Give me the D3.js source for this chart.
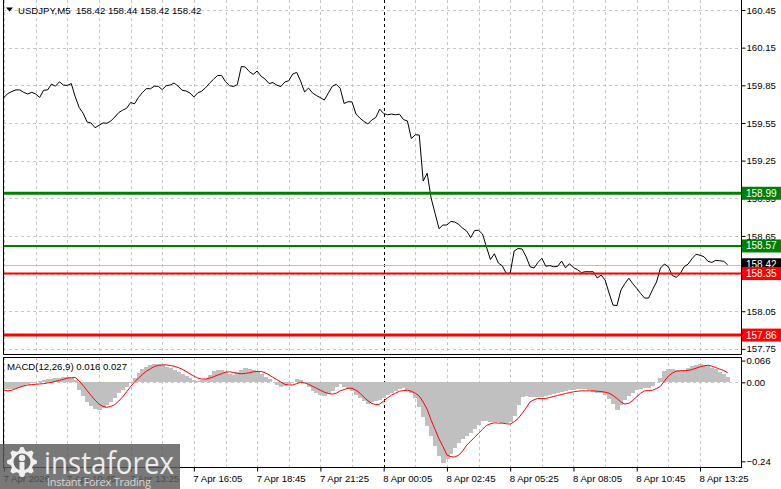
<!DOCTYPE html>
<html>
<head>
<meta charset="utf-8">
<script src="https://cdn.jsdelivr.net/npm/d3@7"></script>
<style>
  body { margin: 0; background: #fff; }
  svg text { font-family: "Liberation Sans", Arial, sans-serif; }
</style>
</head>
<body>
<div id="vis"></div>
<script>
// M5 chart, one value every 2 bars (10 min), starting 7 Apr 08:05
var startTime = new Date(2026, 3, 7, 8, 5);
var stepMinutes = 10;

var closes = [
159.755, 159.785, 159.801, 159.814, 159.813, 159.793, 159.781, 159.794, 159.781, 159.753,
159.811, 159.813, 159.860, 159.843, 159.878, 159.852, 159.849, 159.864, 159.758, 159.673,
159.627, 159.558, 159.550, 159.512, 159.531, 159.550, 159.548, 159.566, 159.597, 159.633,
159.652, 159.667, 159.713, 159.703, 159.754, 159.793, 159.824, 159.822, 159.843, 159.842,
159.816, 159.847, 159.852, 159.868, 159.844, 159.811, 159.805, 159.789, 159.757, 159.790,
159.803, 159.832, 159.868, 159.899, 159.928, 159.929, 159.879, 159.848, 159.840, 159.856,
160.000, 159.996, 159.960, 159.937, 159.964, 159.923, 159.900, 159.864, 159.872, 159.851,
159.840, 159.876, 159.887, 159.940, 159.953, 159.883, 159.797, 159.828, 159.789, 159.768,
159.752, 159.733, 159.787, 159.842, 159.858, 159.826, 159.705, 159.720, 159.717, 159.621,
159.588, 159.563, 159.542, 159.574, 159.593, 159.660, 159.625, 159.615, 159.621, 159.615,
159.620, 159.577, 159.566, 159.426, 159.456, 159.454, 159.087, 159.150, 158.952, 158.830,
158.708, 158.737, 158.737, 158.765, 158.761, 158.741, 158.711, 158.689, 158.637, 158.693,
158.695, 158.665, 158.562, 158.462, 158.508, 158.434, 158.412, 158.352, 158.353, 158.530,
158.550, 158.546, 158.486, 158.406, 158.394, 158.438, 158.472, 158.408, 158.414, 158.404,
158.408, 158.450, 158.396, 158.429, 158.397, 158.382, 158.358, 158.365, 158.365, 158.365,
158.315, 158.338, 158.299, 158.195, 158.099, 158.095, 158.219, 158.270, 158.313, 158.270,
158.232, 158.191, 158.155, 158.155, 158.222, 158.283, 158.394, 158.426, 158.404, 158.335,
158.320, 158.350, 158.405, 158.426, 158.469, 158.504, 158.496, 158.485, 158.448, 158.439,
158.456, 158.452, 158.448, 158.420
];

var macdMain = [
-0.019, -0.020, -0.021, -0.017, -0.014, -0.010, -0.006, -0.002, 0.002, 0.004,
0.006, 0.009, 0.011, 0.013, 0.014, 0.016, 0.017, 0.014, 0.006, -0.022,
-0.042, -0.060, -0.072, -0.081, -0.084, -0.077, -0.069, -0.059, -0.049, -0.033,
-0.023, -0.013, -0.003, 0.012, 0.027, 0.040, 0.048, 0.053, 0.056, 0.057,
0.054, 0.047, 0.043, 0.037, 0.030, 0.024, 0.018, 0.012, 0.007, 0.005,
0.006, 0.011, 0.022, 0.033, 0.037, 0.037, 0.030, 0.025, 0.022, 0.031,
0.038, 0.042, 0.040, 0.037, 0.032, 0.025, 0.016, 0.009, 0.001, -0.007,
-0.013, -0.010, -0.006, 0.001, 0.009, 0.007, -0.003, -0.015, -0.026, -0.033,
-0.038, -0.042, -0.036, -0.027, -0.015, -0.006, -0.013, -0.020, -0.026, -0.038,
-0.048, -0.057, -0.065, -0.060, -0.058, -0.054, -0.048, -0.039, -0.031, -0.025,
-0.020, -0.018, -0.023, -0.033, -0.049, -0.074, -0.104, -0.133, -0.163, -0.193,
-0.223, -0.244, -0.233, -0.217, -0.199, -0.184, -0.172, -0.163, -0.154, -0.142,
-0.129, -0.117, -0.117, -0.120, -0.120, -0.121, -0.124, -0.123, -0.120, -0.103,
-0.068, -0.044, -0.042, -0.044, -0.046, -0.046, -0.045, -0.042, -0.039, -0.036,
-0.033, -0.030, -0.027, -0.024, -0.022, -0.020, -0.020, -0.021, -0.023, -0.028,
-0.033, -0.033, -0.039, -0.051, -0.067, -0.084, -0.068, -0.055, -0.043, -0.033,
-0.023, -0.020, -0.018, -0.018, -0.011, 0.001, 0.014, 0.033, 0.040, 0.041,
0.038, 0.037, 0.038, 0.044, 0.050, 0.054, 0.055, 0.054, 0.050, 0.045,
0.039, 0.031, 0.024, 0.016
];

var macdSignal = [
-0.024, -0.026, -0.024, -0.019, -0.015, -0.011, -0.008, -0.007, -0.006, -0.005,
-0.004, -0.002, 0.000, 0.003, 0.006, 0.009, 0.013, 0.014, 0.015, 0.004,
-0.010, -0.025, -0.040, -0.054, -0.066, -0.073, -0.076, -0.073, -0.068, -0.057,
-0.044, -0.029, -0.013, 0.001, 0.013, 0.024, 0.034, 0.041, 0.048, 0.051,
0.053, 0.053, 0.051, 0.049, 0.045, 0.040, 0.033, 0.026, 0.019, 0.013,
0.010, 0.010, 0.013, 0.017, 0.022, 0.026, 0.031, 0.032, 0.030, 0.027,
0.026, 0.027, 0.029, 0.032, 0.033, 0.033, 0.029, 0.023, 0.015, 0.008,
0.001, -0.006, -0.008, -0.008, -0.004, 0.000, -0.002, -0.006, -0.012, -0.018,
-0.024, -0.030, -0.034, -0.036, -0.033, -0.026, -0.022, -0.018, -0.018, -0.024,
-0.033, -0.045, -0.056, -0.064, -0.068, -0.066, -0.057, -0.047, -0.039, -0.033,
-0.027, -0.025, -0.024, -0.027, -0.033, -0.042, -0.060, -0.082, -0.115, -0.143,
-0.172, -0.195, -0.221, -0.226, -0.227, -0.221, -0.208, -0.191, -0.179, -0.167,
-0.155, -0.143, -0.131, -0.126, -0.123, -0.124, -0.124, -0.126, -0.127, -0.120,
-0.110, -0.095, -0.078, -0.060, -0.053, -0.049, -0.049, -0.049, -0.046, -0.043,
-0.040, -0.037, -0.034, -0.031, -0.029, -0.027, -0.026, -0.026, -0.026, -0.026,
-0.027, -0.028, -0.030, -0.033, -0.040, -0.049, -0.060, -0.066, -0.064, -0.055,
-0.044, -0.033, -0.026, -0.025, -0.024, -0.019, -0.012, 0.004, 0.019, 0.028,
0.034, 0.035, 0.035, 0.036, 0.039, 0.043, 0.047, 0.050, 0.052, 0.049,
0.045, 0.040, 0.036, 0.029
];

var priceTicks = [160.45, 160.15, 159.85, 159.55, 159.25, 158.95, 158.65, 158.35, 158.05, 157.75];
var macdTicks = [0.066, 0, -0.24];
var levelValues = [158.99, 158.57, 158.35, 157.86];
var lastPrice = 158.42;
var headerText = "USDJPY,M5  158.42 158.44 158.42 158.42";
var macdText = "MACD(12,26,9) 0.016 0.027";
var logoText = "instaforex";
var logoSub = "Instant Forex Trading";

var width = 781, height = 489;
var left = 3, right = 741;
var mainTop = 0, mainBottom = 354;
var macdTop = 357, macdBottom = 467;
var fontSize = 9.6;

var times = closes.map(function(d, i) {
  return new Date(startTime.getTime() + i * stepMinutes * 60000);
});

var svg = d3.select('#vis')
  .append('svg')
  .attr('width', width)
  .attr('height', height);

var x = d3.scaleTime()
  .domain([new Date(2026, 3, 7, 8, 5), new Date(2026, 3, 8, 13, 25)])
  .range([4.07, 700]);

var yPrice = d3.scaleLinear()
  .domain([157.75, 160.45])
  .range([348.9, 10]);

var yMacd = d3.scaleLinear()
  .domain([-0.24, 0.066])
  .range([461.3, 360.6]);

// clip paths
var defs = svg.append('defs');
defs.append('clipPath').attr('id', 'clipMain')
  .append('rect').attr('x', left).attr('y', mainTop).attr('width', right - left).attr('height', mainBottom - mainTop);
defs.append('clipPath').attr('id', 'clipMacd')
  .append('rect').attr('x', left).attr('y', macdTop).attr('width', right - left).attr('height', macdBottom - macdTop);

// grid times: every 80 min, labels every 160 min
var gridTimes = d3.range(0, 23).map(function(k) {
  return new Date(startTime.getTime() + k * 80 * 60000);
}).filter(function(t) { return x(t) > left + 1 && x(t) < right; });
var labelTimes = d3.range(0, 12).map(function(k) {
  return new Date(startTime.getTime() + k * 160 * 60000);
});

var gridColor = '#c6c6c6';

// vertical grid both panels
[[mainTop, mainBottom], [macdTop, macdBottom]].forEach(function(p) {
  svg.append('g').selectAll('line')
    .data(gridTimes)
    .enter().append('line')
    .attr('x1', function(d) { return Math.round(x(d)) + 0.5; })
    .attr('x2', function(d) { return Math.round(x(d)) + 0.5; })
    .attr('y1', p[0])
    .attr('y2', p[1])
    .attr('stroke', gridColor)
    .attr('stroke-dasharray', '3,3');
});

// horizontal price grid
svg.append('g').selectAll('line')
  .data(priceTicks)
  .enter().append('line')
  .attr('x1', left)
  .attr('x2', right)
  .attr('y1', function(d) { return Math.round(yPrice(d)) + 0.5; })
  .attr('y2', function(d) { return Math.round(yPrice(d)) + 0.5; })
  .attr('stroke', gridColor)
  .attr('stroke-dasharray', '3,3');

// macd zero line
svg.append('line')
  .attr('x1', left).attr('x2', right + 4)
  .attr('y1', Math.round(yMacd(0)) + 0.5).attr('y2', Math.round(yMacd(0)) + 0.5)
  .attr('stroke', gridColor)
  .attr('stroke-dasharray', '3,3');

// day separator
var daySep = new Date(2026, 3, 8, 0, 5);
[[mainTop, mainBottom], [macdTop, macdBottom]].forEach(function(p) {
  svg.append('line')
    .attr('x1', Math.round(x(daySep)) + 0.5).attr('x2', Math.round(x(daySep)) + 0.5)
    .attr('y1', p[0]).attr('y2', p[1])
    .attr('stroke', '#000')
    .attr('stroke-dasharray', '3,3');
});

// price line
var priceG = svg.append('g').attr('clip-path', 'url(#clipMain)');

priceG.append('line')
  .attr('x1', left).attr('x2', right)
  .attr('y1', Math.round(yPrice(lastPrice)) + 0.5)
  .attr('y2', Math.round(yPrice(lastPrice)) + 0.5)
  .attr('stroke', '#c0c0c0');

priceG.append('path')
  .datum(closes)
  .attr('fill', 'none')
  .attr('stroke', '#000')
  .attr('stroke-width', 1)
  .attr('d', d3.line()
    .x(function(d, i) { return x(times[i]); })
    .y(function(d) { return yPrice(d); }));

var levelColor = function(v) { return v > lastPrice ? '#008000' : '#ff0000'; };
var levelWidth = function(v) { return Math.abs(v - lastPrice) > 0.3 ? 3 : 2; };

priceG.selectAll('.level')
  .data(levelValues)
  .enter().append('line')
  .attr('class', 'level')
  .attr('x1', left).attr('x2', right)
  .attr('y1', function(d) { return yPrice(d); })
  .attr('y2', function(d) { return yPrice(d); })
  .attr('stroke', levelColor)
  .attr('stroke-width', levelWidth);

// macd
var macdG = svg.append('g').attr('clip-path', 'url(#clipMacd)');
var barW = x(new Date(startTime.getTime() + stepMinutes * 60000)) - x(startTime);

macdG.selectAll('.bar')
  .data(macdMain)
  .enter().append('rect')
  .attr('class', 'bar')
  .attr('x', function(d, i) { return x(times[i]) - barW / 2; })
  .attr('width', barW + 0.6)
  .attr('y', function(d) { return Math.min(yMacd(d), yMacd(0)); })
  .attr('height', function(d) { return Math.abs(yMacd(d) - yMacd(0)); })
  .attr('fill', '#c0c0c0')
  .attr('shape-rendering', 'crispEdges');

macdG.append('path')
  .datum(macdSignal)
  .attr('fill', 'none')
  .attr('stroke', '#ff0000')
  .attr('stroke-width', 1)
  .attr('d', d3.line()
    .x(function(d, i) { return x(times[i]); })
    .y(function(d) { return yMacd(d); }));

// frames
svg.append('path')
  .attr('d', 'M' + (left + 0.5) + ',' + mainTop + 'V' + (mainBottom + 0.5) + 'H' + (right + 0.5) + 'V' + mainTop)
  .attr('fill', 'none').attr('stroke', '#000');
svg.append('rect')
  .attr('x', left + 0.5).attr('y', macdTop + 0.5)
  .attr('width', right - left).attr('height', macdBottom - macdTop)
  .attr('fill', 'none').attr('stroke', '#000');

// right price axis
var yAxis = d3.axisRight(yPrice)
  .tickValues(priceTicks)
  .tickSize(4)
  .tickFormat(d3.format('.2f'));

var ya = svg.append('g')
  .attr('transform', 'translate(' + (right + 0.5) + ',0)')
  .call(yAxis);
ya.select('.domain').remove();
ya.selectAll('text').attr('font-size', fontSize).attr('fill', '#000').attr('x', 5)
  .style('font-family', '"Liberation Sans", Arial, sans-serif');

var ma = svg.append('g')
  .attr('transform', 'translate(' + (right + 0.5) + ',0)')
  .call(d3.axisRight(yMacd).tickValues(macdTicks).tickSize(4)
    .tickFormat(function(d) { return d === 0 ? '0.00' : d3.format('.3~f')(d); }));
ma.select('.domain').remove();
ma.selectAll('text').attr('font-size', fontSize).attr('fill', '#000').attr('x', 5)
  .style('font-family', '"Liberation Sans", Arial, sans-serif');

// time axis
var fmtFirst = d3.timeFormat('%-d %b %Y');
var fmt = d3.timeFormat('%-d %b %H:%M');
var xa = svg.append('g')
  .attr('transform', 'translate(0,' + (macdBottom + 0.5) + ')')
  .call(d3.axisBottom(x).tickValues(labelTimes).tickSize(4)
    .tickFormat(function(d, i) { return i === 0 ? fmtFirst(d) : fmt(d); }));
xa.select('.domain').remove();
xa.selectAll('text')
  .attr('font-size', fontSize)
  .attr('fill', '#000')
  .attr('text-anchor', 'start')
  .attr('dx', -1)
  .attr('y', 8)
  .style('font-family', '"Liberation Sans", Arial, sans-serif');

// level label boxes
var boxH = 13;
var boxes = [lastPrice].concat(levelValues.slice().sort(function(a, b) { return a - b; }).reverse());
var lb = svg.append('g').selectAll('g')
  .data(boxes)
  .enter().append('g')
  .attr('transform', function(d) { return 'translate(' + (right + 1) + ',' + (yPrice(d) - boxH / 2) + ')'; });
lb.append('rect')
  .attr('width', width - right)
  .attr('height', boxH)
  .attr('fill', function(d) { return d === lastPrice ? '#000' : levelColor(d); });
lb.append('text')
  .attr('x', 4)
  .attr('y', boxH / 2 + 3.5)
  .attr('font-size', fontSize + 0.4)
  .attr('fill', '#fff')
  .text(function(d) { return d3.format('.2f')(d); });

// header texts
svg.append('path')
  .attr('d', 'M6,7.5 L13,7.5 L9.5,11.5 Z')
  .attr('fill', '#000');
svg.append('text')
  .attr('x', 18).attr('y', 13.5)
  .attr('font-size', fontSize)
  .attr('fill', '#000')
  .attr('xml:space', 'preserve')
  .text(headerText);
svg.append('text')
  .attr('x', 7).attr('y', macdTop + 12.5)
  .attr('font-size', fontSize)
  .attr('fill', '#000')
  .text(macdText);

// logo
var logo = svg.append('g').attr('transform', 'translate(0,444)');
logo.append('rect')
  .attr('width', 180).attr('height', 45)
  .attr('fill', '#5a5a5a')
  .attr('opacity', 0.82);
var teeth = 8, rOut = 15, rIn = 11.5;
var gearPts = d3.range(teeth * 4).map(function(k) {
  var a = (k / (teeth * 4)) * 2 * Math.PI - Math.PI / 2 - Math.PI / (teeth * 4);
  var r = (k % 4 < 2) ? rOut : rIn;
  return [22 + r * Math.cos(a), 18 + r * Math.sin(a)];
});
logo.append('path')
  .attr('d', d3.line()(gearPts) + 'Z')
  .attr('fill', '#f0f0f0');
logo.append('circle').attr('cx', 22).attr('cy', 18).attr('r', 8.5).attr('fill', '#6a6a6a');
logo.append('circle').attr('cx', 22).attr('cy', 14).attr('r', 3.2).attr('fill', '#f0f0f0');
logo.append('rect').attr('x', 19.5).attr('y', 18).attr('width', 5).attr('height', 14).attr('fill', '#f0f0f0');
logo.append('text')
  .attr('x', 44).attr('y', 30)
  .attr('font-size', 31)
  .attr('textLength', 130)
  .attr('lengthAdjust', 'spacingAndGlyphs')
  .attr('fill', '#ececec')
  .style('font-family', '"Open Sans", Lato, sans-serif')
  .text(logoText);
logo.append('text')
  .attr('x', 47).attr('y', 42)
  .attr('font-size', 11)
  .attr('textLength', 104)
  .attr('fill', '#d8d8d8')
  .style('font-family', '"Open Sans", Lato, sans-serif')
  .text(logoSub);
</script>
</body>
</html>
